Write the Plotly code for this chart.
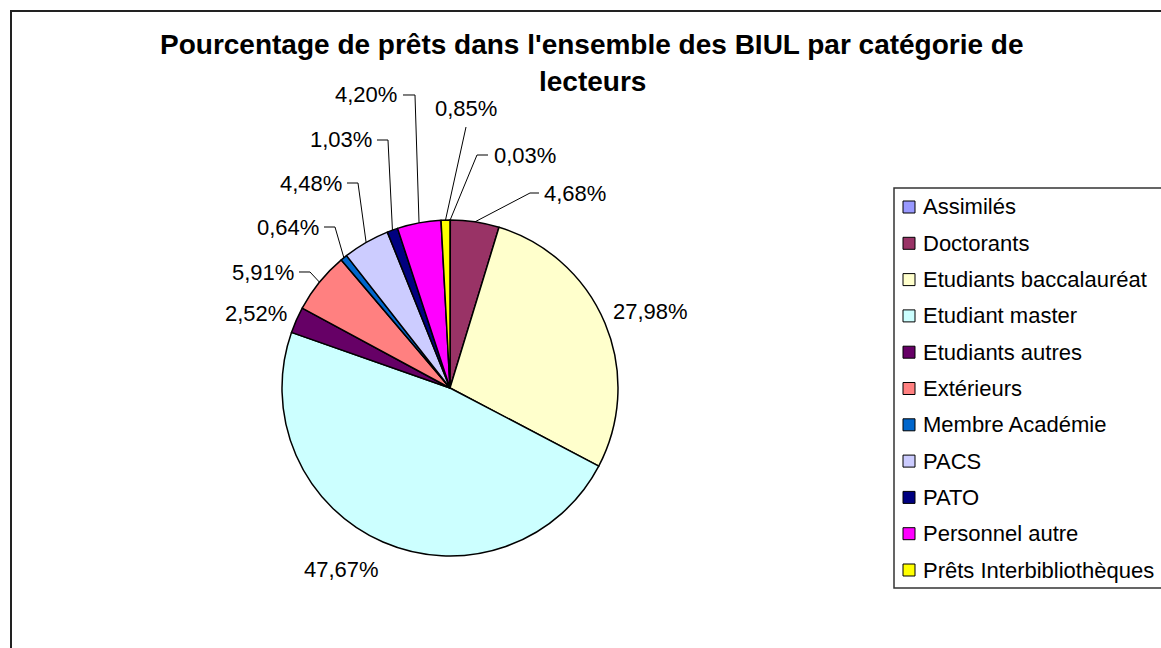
import math
import plotly.graph_objects as go

# ---------------- data ----------------
categories = [
    "Assimilés", "Doctorants", "Etudiants baccalauréat", "Etudiant master",
    "Etudiants autres", "Extérieurs", "Membre Académie", "PACS", "PATO",
    "Personnel autre", "Prêts Interbibliothèques",
]
values = [0.03, 4.68, 27.98, 47.67, 2.52, 5.91, 0.64, 4.48, 1.03, 4.20, 0.85]
colors = [
    "#9999FF", "#993366", "#FFFFCC", "#CCFFFF", "#660066", "#FF8080",
    "#0066CC", "#CCCCFF", "#000080", "#FF00FF", "#FFFF00",
]
title_lines = [
    "Pourcentage de prêts dans l'ensemble des BIUL par catégorie de",
    "lecteurs",
]

# ---------------- layout / style (pixels) ----------------
W, H = 1161, 648
CX, CY, R = 450, 388, 168
FONT = "Liberation Sans, Arial, sans-serif"

# label placement: (anchor, text_x, text_y, leader points after the slice edge)
label_style = [
    ("left", 492, 155, [(477, 155), (488, 155)]),
    ("left", 542, 193, [(530, 193), (539, 193)]),
    ("center", 650, 312, None),
    ("right", 381, 569, None),
    ("right", 289, 313, None),
    ("right", 296, 272, [(310, 272), (299, 272)]),
    ("right", 321, 227, [(335, 227), (324, 227)]),
    ("right", 344, 183, [(358, 183), (347, 183)]),
    ("right", 374, 140, [(388, 140), (377, 140)]),
    ("right", 399, 95, [(415, 95), (403, 95)]),
    ("center", 466, 109, [(466, 127)]),
]


def px(x):
    return x / W


def py(y):
    return 1 - y / H


fig = go.Figure(
    go.Pie(
        labels=categories,
        values=values,
        marker=dict(colors=colors, line=dict(color="black", width=1.5)),
        sort=False,
        direction="clockwise",
        rotation=0,
        textinfo="none",
        showlegend=False,
        domain=dict(x=[px(CX - R), px(CX + R)], y=[py(CY + R), py(CY - R)]),
    )
)

shapes = []
annotations = []

# chart frame
shapes.append(dict(type="rect", xref="paper", yref="paper",
                   x0=px(11), y0=py(11), x1=1.05, y1=-0.05,
                   line=dict(color="#222", width=2), fillcolor="rgba(0,0,0,0)", layer="below"))

# data labels with leader lines
total = sum(values)
cum = 0.0
for v, (anchor, tx, ty, pts) in zip(values, label_style):
    mid = (cum + v / 2) / total
    cum += v
    ang = 2 * math.pi * mid
    ex, ey = CX + R * math.sin(ang), CY - R * math.cos(ang)
    if pts:
        path = "M {:.5f},{:.5f}".format(px(ex), py(ey))
        for (qx, qy) in pts:
            path += " L {:.5f},{:.5f}".format(px(qx), py(qy))
        shapes.append(dict(type="path", xref="paper", yref="paper", path=path,
                           line=dict(color="black", width=1)))
    annotations.append(dict(
        x=px(tx), y=py(ty), xref="paper", yref="paper",
        xanchor=anchor, yanchor="middle", showarrow=False,
        text=("%.2f%%" % v).replace(".", ","),
        font=dict(family=FONT, size=22, color="black"),
    ))

# title
for i, line in enumerate(title_lines):
    annotations.append(dict(
        x=px(592), y=py(45 + 36 * i), xref="paper", yref="paper",
        xanchor="center", yanchor="middle", showarrow=False,
        text="<b>%s</b>" % line,
        font=dict(family=FONT, size=28, color="black"),
    ))

# legend (manual, to match row spacing)
shapes.append(dict(type="rect", xref="paper", yref="paper",
                   x0=px(894), y0=py(188), x1=1.05, y1=py(588),
                   line=dict(color="#333", width=1.5), fillcolor="white"))
row0, step = 207, 36.3
for i, (cat, col) in enumerate(zip(categories, colors)):
    yc = row0 + i * step
    shapes.append(dict(type="rect", xref="paper", yref="paper",
                       x0=px(903), x1=px(915), y0=py(yc - 6), y1=py(yc + 6),
                       line=dict(color="black", width=1), fillcolor=col))
    annotations.append(dict(
        x=px(921), y=py(yc), xref="paper", yref="paper",
        xanchor="left", yanchor="middle", showarrow=False,
        text=cat, font=dict(family=FONT, size=22, color="black"),
    ))

fig.update_layout(
    width=W, height=H,
    margin=dict(l=0, r=0, t=0, b=0),
    paper_bgcolor="white", plot_bgcolor="white",
    shapes=shapes, annotations=annotations,
    showlegend=False,
)

fig.write_html(
    "out.html",
    config={"displayModeBar": False},
    post_script="document.body.style.margin='0';document.body.style.overflow='hidden';",
)
